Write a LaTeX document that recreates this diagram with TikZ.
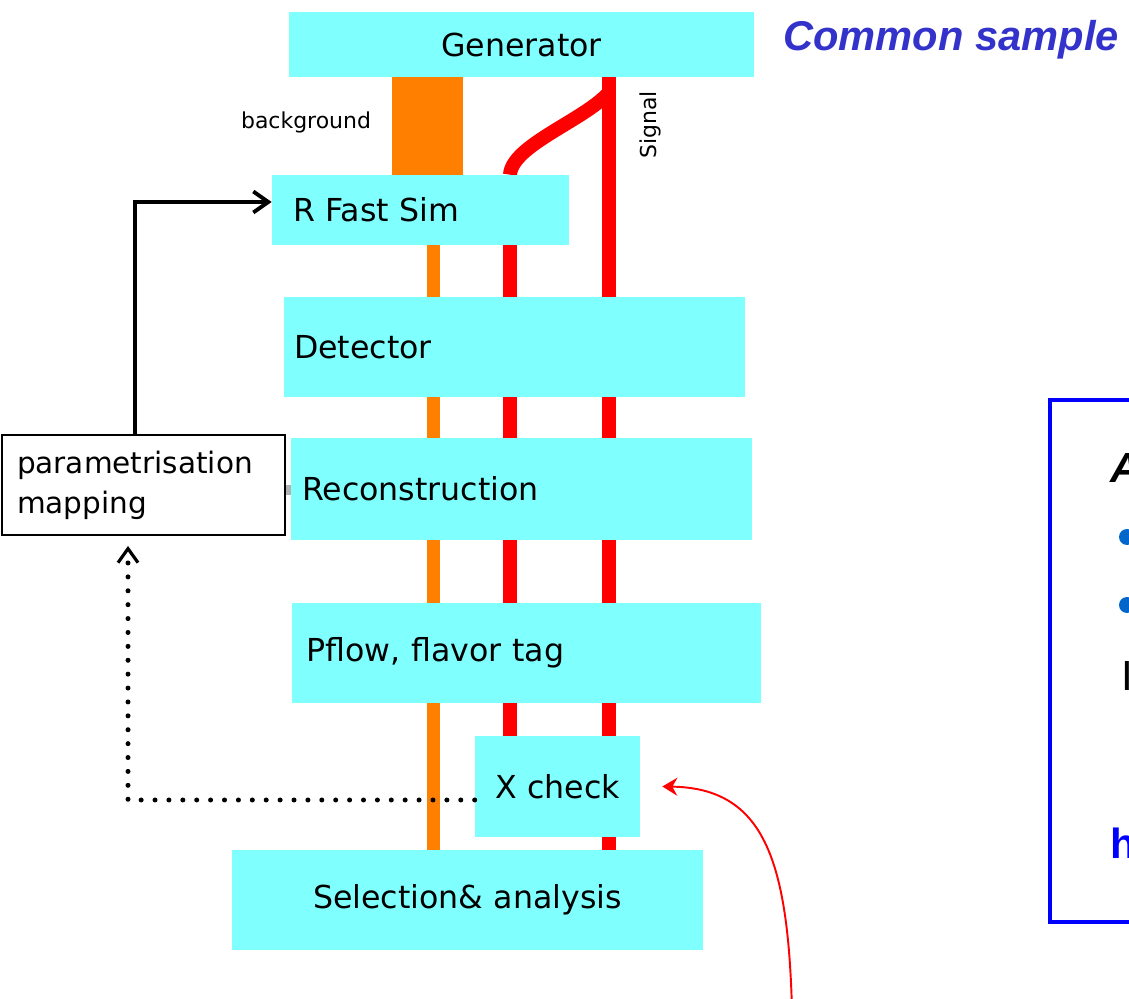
\documentclass[tikz,border=0pt]{standalone}
\usepackage{fontspec}
\setmainfont{DejaVu Sans}
\newfontfamily\arialfont{Liberation Sans}
\usetikzlibrary{arrows.meta, backgrounds}
\definecolor{boxcyan}{RGB}{128,255,255}
\definecolor{bgorange}{RGB}{255,128,0}
\definecolor{sigred}{RGB}{255,0,0}
\definecolor{titleblue}{RGB}{51,51,204}
\definecolor{boxblue}{RGB}{0,0,255}
\definecolor{bulletblue}{RGB}{0,102,204}
\tikzstyle{cyanrect} = [rectangle, fill=boxcyan, minimum height=2cm, inner ysep=0pt,
    align=left, font=\fontsize{18}{21}\selectfont]
\tikzstyle{whiterect} = [rectangle, draw=black, line width=1.1pt, fill=white, minimum height=2cm,
    inner ysep=0pt, align=left, font=\fontsize{16.8}{22.7}\selectfont]
\tikzstyle{orangeline} = [draw=bgorange]
\tikzstyle{redline} = [draw=sigred, line width=0.28cm]
\tikzstyle{arrow} = [line width=2.2pt, -{Straight Barb[length=0.3cm,width=0.42cm]}]
\tikzstyle{dotarrow} = [line width=0.1cm, line cap=round, dash pattern=on 0pt off 0.278cm,
    -{Straight Barb[length=0.28cm,width=0.4cm,line width=1.8pt]}, shorten >=0.2cm]
\tikzstyle{redarrow} = [draw=sigred, line width=1.1pt, -{Stealth[length=0.3cm,width=0.36cm,inset=0.1cm]}]
\tikzstyle{smalllabel} = [inner sep=0pt, font=\fontsize{12.5}{15}\selectfont]

\begin{document}
\begin{tikzpicture}[x=0.02cm, y=-0.02cm]
    \useasboundingbox (0,0) rectangle (1129,999);
    \clip (0,0) rectangle (1129,999);

    % chain nodes
    \node (Generator) [cyanrect, minimum width=9.3cm, minimum height=1.3cm, inner xsep=0pt,
        text width=9.3cm, align=center] at (521.5,44.5) {Generator};
    \node (FastSim) [cyanrect, minimum width=5.94cm, minimum height=1.4cm, inner xsep=0.42cm,
        text width=5.1cm] at (420.5,210) {R Fast Sim};
    \node (Detector) [cyanrect, minimum width=9.22cm, inner xsep=0.2cm,
        text width=8.82cm] at (514.5,347) {Detector};
    \node (Reco) [cyanrect, minimum width=9.22cm, minimum height=2.04cm, inner xsep=0.22cm,
        text width=8.78cm] at (521.5,489) {Reconstruction};
    \node (Pflow) [cyanrect, minimum width=9.4cm, inner xsep=0.3cm,
        text width=8.8cm] at (526.5,653) {Pflow, flavor tag};
    \node (XCheck) [cyanrect, minimum width=3.3cm, minimum height=2.02cm, inner xsep=0pt,
        text width=3.3cm, align=center] at (557.5,786.5) {X check};
    \node (Selection) [cyanrect, minimum width=9.42cm, inner xsep=0pt,
        text width=9.42cm, align=center] at (467.5,900) {Selection\& analysis};

    % side box
    \node (ParamMap) [whiterect, minimum width=5.66cm, inner xsep=0.3cm,
        text width=5.06cm] at (143.5,485) {parametrisation\\mapping};

    % labels
    \node (BgLabel) [smalllabel] at (306,122) {background};
    \node (SigLabel) [smalllabel, rotate=90] at (650,125) {Signal};
    \node (Common) [anchor=west, inner sep=0pt, text=titleblue,
        font=\arialfont\bfseries\itshape\fontsize{23.7}{28}\selectfont] at (783,40) {Common sample};

    % sample streams
    \coordinate (BgBlockX) at (427.5,0);
    \coordinate (BgX) at (433.5,0);
    \coordinate (SigAX) at (510,0);
    \coordinate (SigBX) at (609,0);
    \begin{scope}[on background layer]
        \draw [orangeline, line width=1.42cm] (Generator.south -| BgBlockX) -- (FastSim.north -| BgBlockX);
        \draw [orangeline, line width=0.26cm] (FastSim.south -| BgX) -- (Selection.north -| BgX);
        \draw [redline] (FastSim.south -| SigAX) -- (XCheck.north -| SigAX);
        \draw [redline] (Generator.south -| SigBX) -- (Selection.north -| SigBX);
        \draw [redline] ([yshift=-0.3cm]Generator.south -| SigBX) .. controls (585,120) and (512,145) .. (FastSim.north -| SigAX);
    \end{scope}

    % arrows
    \draw [gray!60, line width=0.2cm] ([yshift=-0.1cm]ParamMap.east) -- ([yshift=-0.1cm]ParamMap.east -| Reco.west);
    \draw [arrow] ([xshift=-0.17cm]ParamMap.north) |- ([yshift=0.16cm]FastSim.west);
    \draw [dotarrow] ([yshift=-0.27cm]XCheck.west) -| ([xshift=-0.31cm]ParamMap.south);
    \coordinate (NoteEnd) at (792,1010);
    \draw [redarrow] (NoteEnd) .. controls (788,860) and (764,788) .. ([xshift=0.44cm]XCheck.east);

    % cut-off box on the right
    \node (InfoBox) [draw=boxblue, line width=0.08cm, minimum width=4cm, minimum height=10.44cm,
        anchor=north west] at (1048,398) {};
    \node (InfoA) [anchor=base west, inner sep=0pt,
        font=\arialfont\bfseries\itshape\fontsize{24}{28}\selectfont] at (1110,483) {A};
    \node (BulletA) [circle, fill=bulletblue, minimum size=0.32cm, inner sep=0pt] at (1127,537) {};
    \node (BulletB) [circle, fill=bulletblue, minimum size=0.32cm, inner sep=0pt] at (1127,605) {};
    \node (InfoI) [anchor=base west, inner sep=0pt,
        font=\arialfont\fontsize{24}{28}\selectfont] at (1121,690) {I};
    \node (InfoH) [anchor=base west, inner sep=0pt, text=boxblue,
        font=\arialfont\bfseries\fontsize{24}{28}\selectfont] at (1110,858) {h};
\end{tikzpicture}
\end{document}
